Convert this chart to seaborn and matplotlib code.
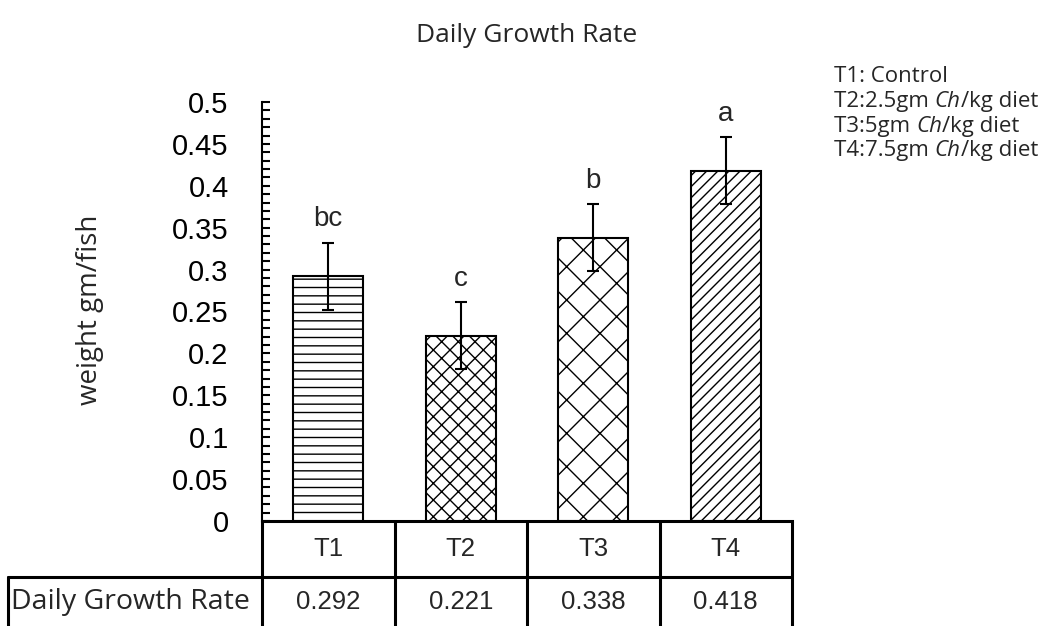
import matplotlib
matplotlib.use('Agg')
import matplotlib.pyplot as plt
import seaborn as sns
import numpy as np
import pandas as pd
from matplotlib.ticker import MultipleLocator, FuncFormatter

# Donnees du graphique
categories = ['T1', 'T2', 'T3', 'T4']
values = [0.292, 0.221, 0.338, 0.418]
errors = [0.04, 0.04, 0.04, 0.04]
letters = ['bc', 'c', 'b', 'a']
hatches = ['--', 'xx', 'x', '///']
row_label = 'Daily Growth Rate'
legend_lines = [
    ('T1: Control', None, None),
    ('T2:2.5gm ', 'Ch', '/kg diet'),
    ('T3:5gm ', 'Ch', '/kg diet'),
    ('T4:7.5gm ', 'Ch', '/kg diet'),
]

sns.set_theme(style='white')
plt.rcParams['font.family'] = ['Liberation Sans', 'DejaVu Sans']
plt.rcParams['hatch.linewidth'] = 1.0
calib = ['Open Sans', 'DejaVu Sans']

fig = plt.figure(figsize=(10.53, 6.26), dpi=100)
ax = fig.add_axes([262 / 1053, 1 - 521 / 626, 530 / 1053, 419 / 626])

df = pd.DataFrame({'cat': categories, 'val': values})
sns.barplot(data=df, x='cat', y='val', ax=ax, color='white', width=0.53,
            edgecolor='black', linewidth=1.5, errorbar=None)
for patch, h in zip(ax.patches, hatches):
    patch.set_hatch(h)
    patch.set_facecolor('white')
    patch.set_edgecolor('black')

x = np.arange(len(categories))
ax.errorbar(x, values, yerr=errors, fmt='none', ecolor='black',
            elinewidth=1.5, capsize=4.5, capthick=1.5)

for xi, v, e, lab in zip(x, values, errors, letters):
    ax.annotate(lab, (xi, v + e), xytext=(0, 17), textcoords='offset points',
                ha='center', va='center', fontsize=20)

ax.set_xlim(-0.5, 3.5)
ax.set_ylim(0, 0.5)
ax.yaxis.set_major_locator(MultipleLocator(0.05))
ax.yaxis.set_minor_locator(MultipleLocator(0.01))
ax.yaxis.set_major_formatter(FuncFormatter(lambda v, p: f'{v:.2f}'.rstrip('0').rstrip('.') if v else '0'))
ax.tick_params(axis='y', which='both', direction='in', length=6, width=1.5,
               left=True, labelsize=21, pad=24, colors='black')
ax.tick_params(axis='x', bottom=False, labelbottom=False)
ax.set_xlabel('')
ax.set_ylabel('')
for s in ['top', 'right']:
    ax.spines[s].set_visible(False)
ax.spines['left'].set_linewidth(1.5)
ax.spines['left'].set_color('black')
ax.spines['bottom'].set_linewidth(2.2)
ax.spines['bottom'].set_color('black')

# Tableau de donnees sous l'axe
tr = ax.get_xaxis_transform()
y_mid = (521 - 577) / 419
y_bot = -0.27
x_left = -0.5 - (262 - 8) / 132.5
for xb in np.arange(-0.5, 3.6, 1.0):
    ax.plot([xb, xb], [0, y_bot], color='black', lw=2.2, transform=tr, clip_on=False)
ax.plot([x_left, 3.5], [y_mid, y_mid], color='black', lw=2.2, transform=tr, clip_on=False)
ax.plot([x_left, x_left], [y_mid, y_bot], color='black', lw=2.2, transform=tr, clip_on=False)
for xi, c, v in zip(x, categories, values):
    ax.text(xi, (0 + y_mid) / 2, c, transform=tr, ha='center', va='center', fontsize=18.5)
    ax.text(xi, -0.193, f'{v:.3f}', transform=tr, ha='center', va='center', fontsize=18.5)
ax.text(x_left + 0.025, -0.193, row_label, transform=tr, ha='left', va='center',
        fontsize=20.5, family=calib)

fig.text(527 / 1053, 1 - 35 / 626, 'Daily Growth Rate', ha='center', va='center',
         fontsize=19, family=calib)
fig.text(90 / 1053, 1 - 310 / 626, 'weight gm/fish', ha='center', va='center',
         rotation=90, fontsize=20, family=calib)

# Legende texte avec Ch en italique
fig.canvas.draw()
renderer = fig.canvas.get_renderer()
inv = fig.transFigure.inverted()
for i, (a, it, b) in enumerate(legend_lines):
    yy = 1 - (77 + i * 24.5) / 626
    t = fig.text(834 / 1053, yy, a, ha='left', va='center', fontsize=16, family=calib)
    if it is None:
        continue
    bb = t.get_window_extent(renderer)
    x1 = inv.transform((bb.x1, 0))[0]
    t2 = fig.text(x1, yy, it, ha='left', va='center', fontsize=16, style='italic',
                  family=calib)
    bb2 = t2.get_window_extent(renderer)
    x2 = inv.transform((bb2.x1, 0))[0]
    fig.text(x2, yy, b, ha='left', va='center', fontsize=16, family=calib)

fig.savefig('out.png', dpi=100)
